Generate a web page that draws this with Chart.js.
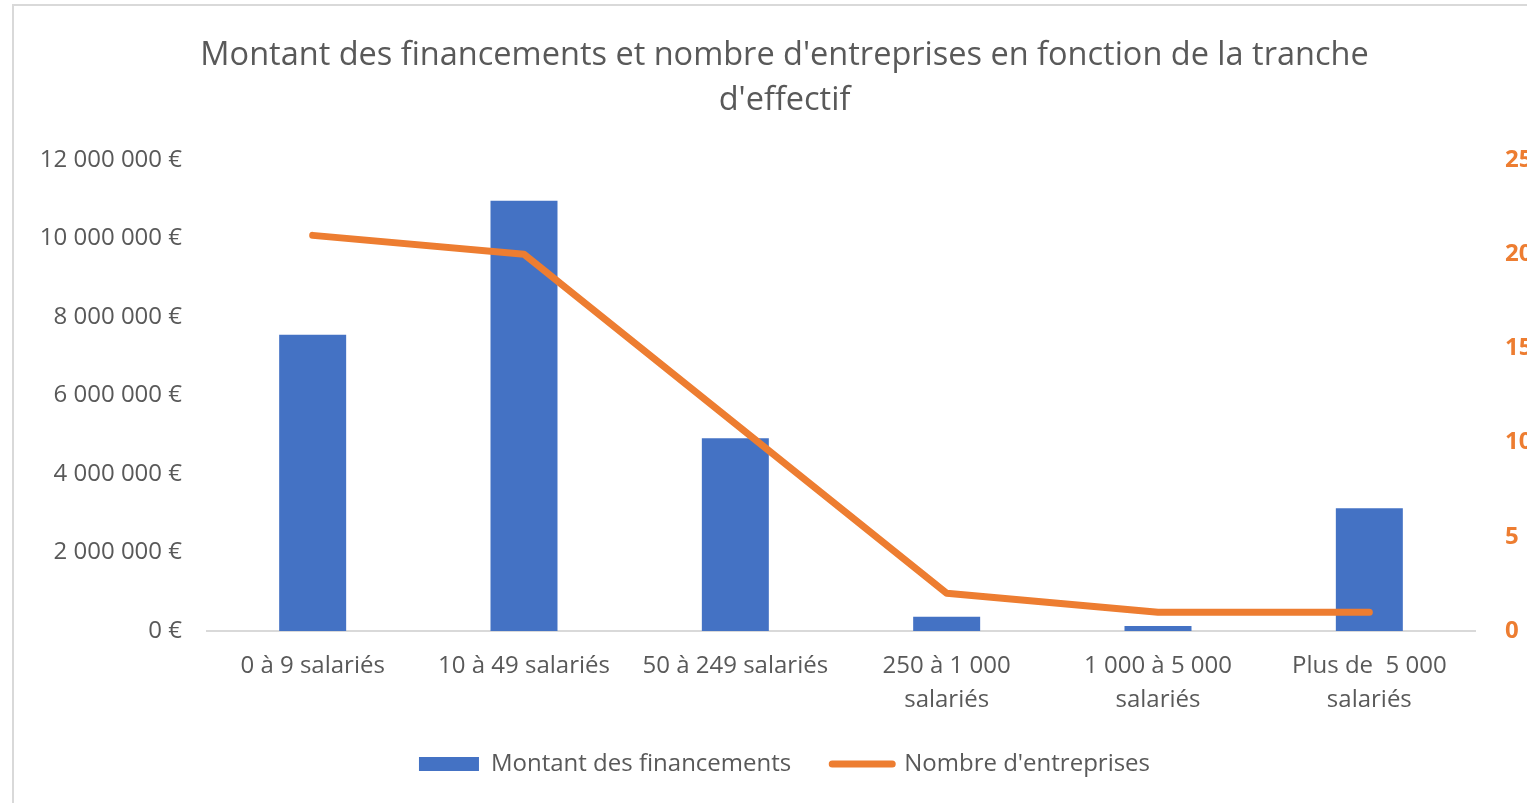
<!DOCTYPE html>
<html><head><meta charset="utf-8">
<script src="https://cdn.jsdelivr.net/npm/chart.js@4"></script>
<style>
html,body{margin:0;padding:0;background:#fff;overflow:hidden;width:1527px;height:803px;}
#frame{position:absolute;left:12px;top:4px;width:1600px;height:820px;border-left:2px solid #d9d9d9;border-top:2px solid #d9d9d9;}
#wrap{position:absolute;left:12px;top:0;width:1545px;height:786px;}
</style></head>
<body>
<div id="frame"></div>
<div id="wrap"><canvas id="c" width="1545" height="786"></canvas></div>
<script>
const categories = ["0 à 9 salariés", "10 à 49 salariés", "50 à 249 salariés", ["250 à 1 000", "salariés"], ["1 000 à 5 000", "salariés"], ["Plus de  5 000", "salariés"]];
const montants = [7550000, 10960000, 4910000, 360000, 130000, 3130000];
const entreprises = [21, 20, 11, 2, 1, 1];
const titleLines = ["Montant des financements et nombre d'entreprises en fonction de la tranche", "d'effectif"];
const seriesNames = ["Montant des financements", "Nombre d'entreprises"];

const FONT = "Open Sans";
const GREY = "#595959";
const BLUE = "#4472C4";
const ORANGE = "#ED7D31";

function euro(v){ return String(Math.round(v)).replace(/\B(?=(\d{3})+(?!\d))/g, " ") + " €"; }

new Chart(document.getElementById('c'), {
  data: {
    labels: categories,
    datasets: [
      { type: 'bar', label: seriesNames[0], data: montants, backgroundColor: BLUE, yAxisID: 'y', order: 1,
        categoryPercentage: 1, barPercentage: 0.317 },
      { type: 'line', label: seriesNames[1], data: entreprises, borderColor: ORANGE, backgroundColor: ORANGE, borderWidth: 7,
        pointRadius: 0, yAxisID: 'y1', order: 0, tension: 0, borderCapStyle: 'round', borderJoinStyle: 'round' }
    ]
  },
  options: {
    responsive: false, animation: false,
    layout: { padding: { left: 0, right: 0, top: 0, bottom: 0 } },
    plugins: {
      tooltip: { enabled: false },
      title: { display: true, text: titleLines, color: GREY, font: { family: FONT, size: 32.5, weight: 'normal', lineHeight: 1.385 },
        padding: { top: 33, bottom: 37 } },
      legend: { position: 'bottom',
        labels: { color: GREY, font: { family: FONT, size: 24 }, boxWidth: 60, boxHeight: 14, usePointStyle: true, pointStyleWidth: 60, padding: 41,
          generateLabels: (chart) => chart.data.datasets.map((ds, i) => ({
            text: ds.label, datasetIndex: i, fontColor: GREY,
            fillStyle: ds.type === 'bar' ? BLUE : ORANGE, strokeStyle: ds.type === 'bar' ? BLUE : ORANGE,
            lineWidth: ds.type === 'bar' ? 0 : 7, lineCap: 'round',
            pointStyle: ds.type === 'bar' ? 'rect' : 'line', hidden: false
          }))
        }
      }
    },
    scales: {
      x: { grid: { display: false, drawTicks: false }, border: { display: true, color: '#d9d9d9', width: 2 },
        ticks: { color: GREY, font: { family: FONT, size: 24, lineHeight: 1.42 }, padding: 18, maxRotation: 0, autoSkip: false },
        afterFit: (s) => { s.height = 80; } },
      y: { position: 'left', min: 0, max: 12000000, grid: { display: false, drawTicks: false }, border: { display: false },
        ticks: { stepSize: 2000000, color: GREY, font: { family: FONT, size: 24 }, padding: 25, callback: (v) => euro(v) },
        afterFit: (s) => { s.width = 195; } },
      y1: { position: 'right', min: 0, max: 25, grid: { display: false, drawTicks: false }, border: { display: false },
        ticks: { stepSize: 5, color: ORANGE, font: { family: FONT, size: 24, weight: 'bold' }, padding: 30 },
        afterFit: (s) => { s.width = 82; } }
    }
  }
});
</script>
</body></html>
